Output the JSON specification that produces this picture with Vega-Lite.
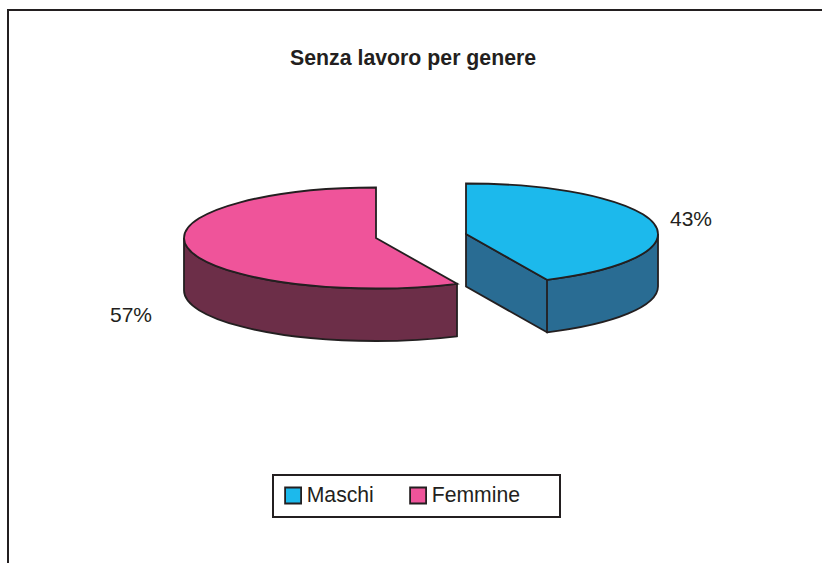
{
"$schema":"https://vega.github.io/schema/vega-lite/v6.json",
"width":830,"height":570,
"autosize":{"type":"none"},
"padding":{"left":8,"top":10,"right":0,"bottom":0},
"background":"white",
"view":{"stroke":"#231f20","strokeWidth":2,"fill":"white"},
"config":{"legend":{"strokeWidth":2}},
"title":{"text":"Senza lavoro per genere","font":"Liberation Sans","fontWeight":"bold","fontSize":21.3,"color":"#231f20","anchor":"start","frame":"group","dx":282,"dy":59,"offset":0},
"data":{"values":[{"genere":"Maschi","percentuale":0.43},{"genere":"Femmine","percentuale":0.57}]},
"resolve":{"scale":{"x":"independent","y":"independent"}},
"layer":[
{"transform":[{"filter":"datum.genere==='Femmine'"}],
 "mark":{"type":"point","filled":true,"opacity":1,"size":4,"fill":"#6c2e48","stroke":"#231f20","strokeWidth":1.8,"shape":"M-192,0C-192,27.9,-106,50.5,0,50.5C27.9,50.5,55.7,48.9,81,45.8L81,98.3C55.7,101.4,27.9,103,0,103C-106,103,-192,80.4,-192,52.5Z"},
 "encoding":{"x":{"field":"genere","type":"nominal","axis":null,"scale":{"type":"point","padding":0,"domain":["Maschi","Femmine"],"range":[458,368]}},"y":{"field":"genere","type":"nominal","axis":null,"scale":{"type":"point","padding":0,"domain":["Maschi","Femmine"],"range":[224,228]}}}},
{"transform":[{"filter":"datum.genere==='Maschi'"}],
 "mark":{"type":"point","filled":true,"opacity":1,"size":4,"fill":"#296c93","stroke":"#231f20","strokeWidth":1.8,"shape":"M0,0L81,45.8L81,98.3L0,52.5ZM81,45.8C148.7,37.6,192,19.6,192,0L192,52.5C192,72.1,148.7,90.1,81,98.3Z"},
 "encoding":{"x":{"field":"genere","type":"nominal","axis":null,"scale":{"type":"point","padding":0,"domain":["Maschi","Femmine"],"range":[458,368]}},"y":{"field":"genere","type":"nominal","axis":null,"scale":{"type":"point","padding":0,"domain":["Maschi","Femmine"],"range":[224,228]}}}},
{"transform":[{"filter":"datum.genere==='Femmine'"}],
 "mark":{"type":"point","filled":true,"opacity":1,"size":4,"stroke":"#231f20","strokeWidth":1.8,"shape":"M0,0L0,-50.5C-106,-50.5,-192,-27.9,-192,0C-192,27.9,-106,50.5,0,50.5C27.9,50.5,55.7,48.9,81,45.8Z"},
 "encoding":{"x":{"field":"genere","type":"nominal","axis":null,"scale":{"type":"point","padding":0,"domain":["Maschi","Femmine"],"range":[458,368]}},"y":{"field":"genere","type":"nominal","axis":null,"scale":{"type":"point","padding":0,"domain":["Maschi","Femmine"],"range":[224,228]}},
 "fill":{"field":"genere","type":"nominal","scale":{"domain":["Maschi","Femmine"],"range":["#1cb9ec","#ef549a"]},"legend":{"title":" ","titleOrient":"right","titlePadding":31,"titleFontSize":1,"orient":"none","legendX":265,"legendY":465,"direction":"horizontal","columns":2,"symbolType":"square","symbolSize":256,"symbolStrokeColor":"#231f20","symbolStrokeWidth":1.8,"symbolOpacity":1,"labelFont":"Liberation Sans","labelFontSize":21.2,"labelColor":"#231f20","labelOffset":3,"columnPadding":32,"padding":9.5,"strokeColor":"#231f20","fillColor":"white","labelLimit":200}}}},
{"transform":[{"filter":"datum.genere==='Maschi'"}],
 "mark":{"type":"point","filled":true,"opacity":1,"size":4,"stroke":"#231f20","strokeWidth":1.8,"shape":"M0,0L0,-50.5C106,-50.5,192,-27.9,192,0C192,19.6,148.7,37.6,81,45.8Z"},
 "encoding":{"x":{"field":"genere","type":"nominal","axis":null,"scale":{"type":"point","padding":0,"domain":["Maschi","Femmine"],"range":[458,368]}},"y":{"field":"genere","type":"nominal","axis":null,"scale":{"type":"point","padding":0,"domain":["Maschi","Femmine"],"range":[224,228]}},
 "fill":{"field":"genere","type":"nominal"}}},
{"mark":{"type":"text","font":"Liberation Sans","fontSize":21,"color":"#231f20","align":"center","baseline":"middle"},
 "encoding":{"x":{"field":"genere","type":"nominal","axis":null,"scale":{"type":"point","padding":0,"domain":["Maschi","Femmine"],"range":[683,123]}},"y":{"field":"genere","type":"nominal","axis":null,"scale":{"type":"point","padding":0,"domain":["Maschi","Femmine"],"range":[210,306]}},
 "text":{"field":"percentuale","type":"quantitative","format":".0%"}}}
]
}
